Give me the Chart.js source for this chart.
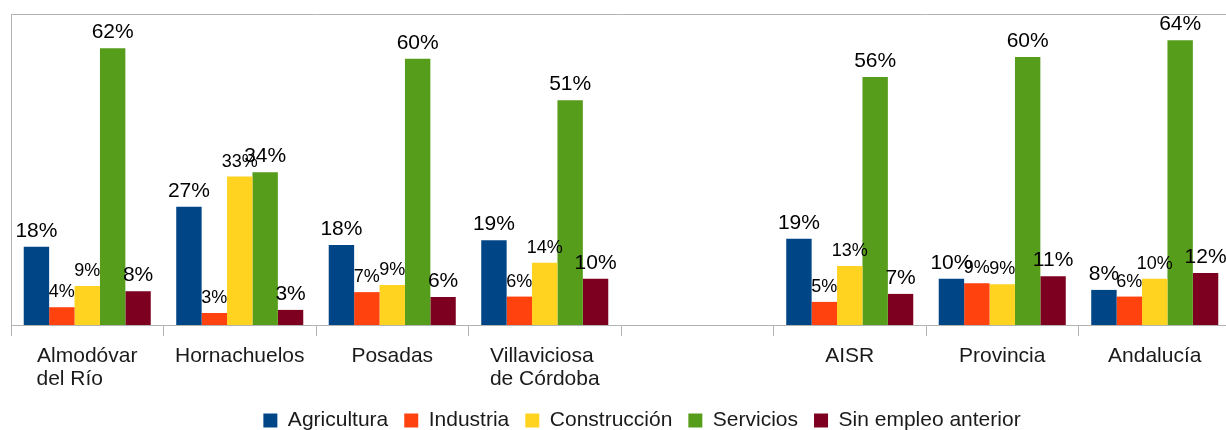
<!DOCTYPE html>
<html>
<head>
<meta charset="utf-8">
<script src="https://cdn.jsdelivr.net/npm/chart.js@4"></script>
<style>
	html, body { margin: 0; padding: 0; overflow: hidden; background: #fff; }
	#wrap { width: 1284px; height: 441px; position: relative; }
</style>
</head>
<body>
<div id="wrap"><canvas id="empleoChart"></canvas></div>
<script>
// categories (index 4 is the empty gap between the towns and the regions)
const categories = [['Almodóvar', 'del Río      '], 'Hornachuelos', 'Posadas', ['Villaviciosa ', 'de Córdoba'], '', 'AISR', 'Provincia', 'Andalucía'];

const seriesNames = ['Agricultura', 'Industria', 'Construcción', 'Servicios', 'Sin empleo anterior'];
const seriesColors = ['#004586', '#ff420e', '#ffd320', '#579d1c', '#7e0021'];

const agricultura  = [17.6, 26.6, 18.0, 19.1, null, 19.4, 10.4, 7.9];
const industria    = [4.0, 2.7, 7.4, 6.4, null, 5.2, 9.4, 6.4];
const construccion = [8.8, 33.4, 9.0, 14.0, null, 13.3, 9.2, 10.4];
const servicios    = [62.3, 34.4, 59.9, 50.6, null, 55.8, 60.3, 64.1];
const sinEmpleo    = [7.6, 3.4, 6.3, 10.4, null, 7.0, 11.0, 11.7];

const yMax = 70;
// series whose value labels are printed smaller in the original
const smallLabelSeries = [1, 2];

const FONT = "'Liberation Sans', Arial, sans-serif";
const GRAY = '#b3b3b3';

Chart.defaults.font.family = FONT;

// value labels above each bar
const barLabels = {
	id: 'barLabels',
	afterDatasetsDraw(chart) {
		const ctx = chart.ctx;
		chart.data.datasets.forEach((ds, i) => {
			const meta = chart.getDatasetMeta(i);
			meta.data.forEach((bar, j) => {
				const v = ds.data[j];
				if (v === null || v === undefined) return;
				ctx.save();
				ctx.font = (smallLabelSeries.includes(i) ? '18px ' : '21px ') + FONT;
				ctx.fillStyle = '#000';
				ctx.textAlign = 'center';
				ctx.textBaseline = 'alphabetic';
				ctx.fillText(Math.round(v) + '%', bar.x, bar.y - 10);
				ctx.restore();
			});
		});
	}
};

const allData = [agricultura, industria, construccion, servicios, sinEmpleo];

new Chart(document.getElementById('empleoChart'), {
	type: 'bar',
	data: {
		labels: categories,
		datasets: allData.map((d, i) => ({
			label: seriesNames[i],
			data: d,
			backgroundColor: seriesColors[i],
			borderWidth: 0,
			categoryPercentage: 0.833,
			barPercentage: 1.0
		}))
	},
	options: {
		responsive: true,
		maintainAspectRatio: false,
		animation: false,
		devicePixelRatio: 1,
		layout: { padding: { top: 14, left: 0, right: 0, bottom: 0 } },
		plugins: {
			tooltip: { enabled: false },
			legend: {
				position: 'bottom',
				labels: {
					boxWidth: 14,
					boxHeight: 14,
					padding: 16,
					color: '#1a1a1a',
					font: { size: 21 }
				}
			}
		},
		scales: {
			x: {
				offset: true,
				grid: { display: true, drawOnChartArea: false, drawTicks: true, tickLength: 11, color: GRAY, offset: true },
				border: { display: true, color: GRAY },
				ticks: {
					color: '#1a1a1a',
					font: { size: 21, lineHeight: 1.1 },
					padding: 9,
					maxRotation: 0,
					autoSkip: false
				},
				afterFit: s => { s.height = 69; }
			},
			xTop: {
				type: 'category',
				position: 'top',
				labels: categories,
				grid: { display: false },
				ticks: { display: false },
				border: { display: true, color: GRAY },
				afterFit: s => { s.height = 0; }
			},
			y: {
				min: 0,
				max: yMax,
				grid: { display: false },
				ticks: { display: false },
				border: { display: true, color: GRAY },
				afterFit: s => { s.width = 11; }
			},
			yRight: {
				type: 'linear',
				position: 'right',
				grid: { display: false },
				ticks: { display: false },
				border: { display: false },
				afterFit: s => { s.width = 53; }
			}
		}
	},
	plugins: [barLabels]
});
</script>
</body>
</html>
